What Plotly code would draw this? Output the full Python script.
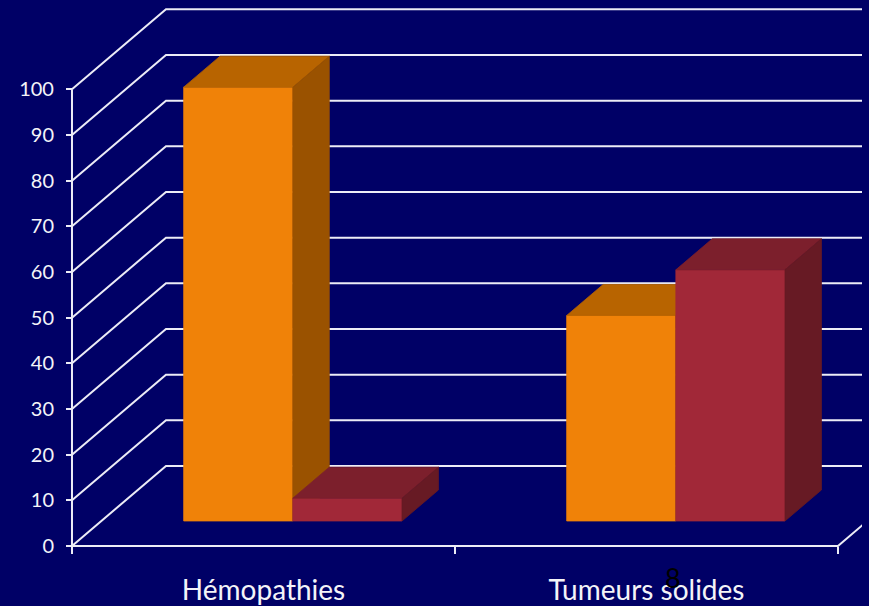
import plotly.graph_objects as go

# ---- data -------------------------------------------------------------
categories = ["Hémopathies", "Tumeurs solides"]
orange_values = [95, 45]
red_values = [5, 55]
y_tick_values = [0, 10, 20, 30, 40, 50, 60, 70, 80, 90, 100]

# ---- styling / 3D geometry -------------------------------------------
BG = "#000066"
GRID = "#ececf6"
TEXT = "#f4f4f8"

X_RANGE = [-0.0313, 2.0627]          # category units (each category is 1 wide)
Y_RANGE = [-3.07, 118.46]            # value units
DEPTH_X, DEPTH_Y = 0.2454, 17.52     # oblique offset of the back wall
GROUP_W = 0.57                       # width of a pair of bars
BAR_Z0, BAR_DZ = 0.3125, 0.3875      # bar front depth and bar thickness (fraction of depth)

SERIES = [
    (orange_values, {"front": "#f08208", "top": "#b86400", "side": "#9a5200"}),
    (red_values, {"front": "#a12838", "top": "#7c1f2c", "side": "#671a24"}),
]

n_cat = len(categories)
x_far = n_cat + DEPTH_X

fig = go.Figure()

# back-wall / side-wall gridlines
gx, gy = [], []
for v in y_tick_values:
    gx += [0, DEPTH_X, x_far + 0.5, None]
    gy += [v, v + DEPTH_Y, v + DEPTH_Y, None]
fig.add_trace(go.Scatter(x=gx, y=gy, mode="lines",
                         line=dict(color=GRID, width=2), hoverinfo="skip"))

# value axis line and floor front / right edge
fig.add_trace(go.Scatter(x=[0, 0, None, 0, n_cat, n_cat + DEPTH_X],
                         y=[0, y_tick_values[-1], None, 0, 0, DEPTH_Y],
                         mode="lines", line=dict(color=GRID, width=2),
                         hoverinfo="skip"))


def face(xs, ys, color):
    fig.add_trace(go.Scatter(x=xs, y=ys, mode="lines", fill="toself",
                             fillcolor=color, line=dict(color=color, width=0.8),
                             hoverinfo="skip"))


bar_w = GROUP_W / len(SERIES)
ox, oy = BAR_Z0 * DEPTH_X, BAR_Z0 * DEPTH_Y       # front face shift
tx, ty = BAR_DZ * DEPTH_X, BAR_DZ * DEPTH_Y       # bar thickness shift

for ci in range(n_cat):
    for si, (values, col) in enumerate(SERIES):
        v = values[ci]
        x0 = ci + 0.5 - GROUP_W / 2 + si * bar_w + ox
        x1 = x0 + bar_w
        y0, y1 = oy, oy + v
        face([x0, x1, x1, x0, x0], [y0, y0, y1, y1, y0], col["front"])
        face([x0, x1, x1 + tx, x0 + tx, x0],
             [y1, y1, y1 + ty, y1 + ty, y1], col["top"])
        face([x1, x1 + tx, x1 + tx, x1, x1],
             [y0, y0 + ty, y1 + ty, y1, y0], col["side"])

x_pos = (0 - Y_RANGE[0]) / (Y_RANGE[1] - Y_RANGE[0])
y_pos = (0 - X_RANGE[0]) / (X_RANGE[1] - X_RANGE[0])

fig.update_layout(
    width=869, height=606,
    margin=dict(l=60, r=7, t=5, b=46, autoexpand=False),
    paper_bgcolor=BG, plot_bgcolor=BG,
    showlegend=False,
    font=dict(family="Lato, 'Open Sans', sans-serif", color=TEXT),
    xaxis=dict(range=X_RANGE, anchor="free", position=x_pos, automargin=False,
               tickvals=[ci + 0.5 for ci in range(n_cat)], ticktext=categories,
               ticks="", showgrid=False, zeroline=False, showline=False,
               tickfont=dict(size=28, color=TEXT), ticklabelstandoff=25,
               minor=dict(tickvals=list(range(n_cat + 1)), ticks="outside",
                          ticklen=7, tickwidth=2, tickcolor=GRID, showgrid=False),
               fixedrange=True),
    yaxis=dict(range=Y_RANGE, anchor="free", position=y_pos, automargin=False,
               tickvals=y_tick_values, ticks="outside", ticklen=6, tickwidth=2,
               tickcolor=GRID, showgrid=False, zeroline=False, showline=False,
               tickfont=dict(size=20, color=TEXT), ticklabelstandoff=8,
               fixedrange=True),
    annotations=[dict(text="8", xref="paper", yref="paper", x=0.764, y=-0.031,
                      xanchor="center", yanchor="middle", showarrow=False,
                      font=dict(size=27, color="#000000"))],
)

fig.write_html("out.html")
